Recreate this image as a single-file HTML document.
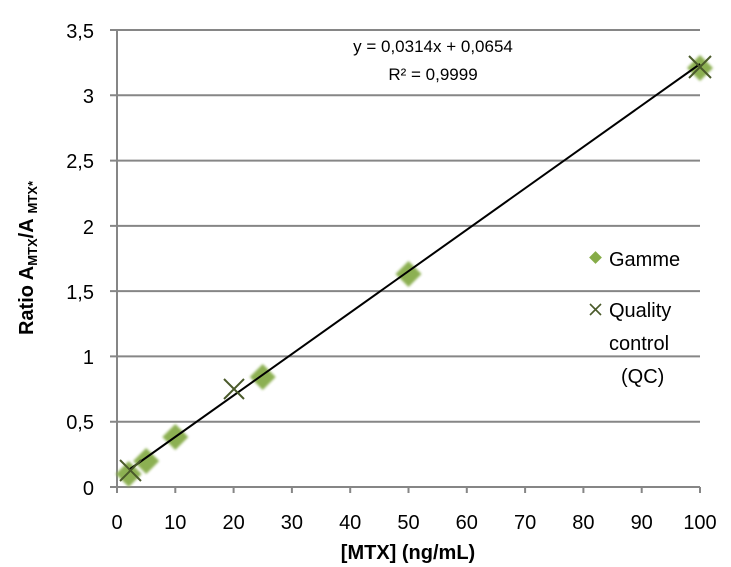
<!DOCTYPE html>
<html><head><meta charset="utf-8"><style>
html,body{margin:0;padding:0;background:#fff;}
svg{display:block;font-family:"Liberation Sans",sans-serif;}
</style></head><body>
<svg width="731" height="567" viewBox="0 0 731 567">
<defs><filter id="b" x="-50%" y="-50%" width="200%" height="200%"><feGaussianBlur stdDeviation="1.2"/></filter></defs>
<g stroke="#868686" stroke-width="2">
<line x1="110" y1="30" x2="700" y2="30"/>
<line x1="110" y1="95.3" x2="700" y2="95.3"/>
<line x1="110" y1="160.6" x2="700" y2="160.6"/>
<line x1="110" y1="225.9" x2="700" y2="225.9"/>
<line x1="110" y1="291.1" x2="700" y2="291.1"/>
<line x1="110" y1="356.4" x2="700" y2="356.4"/>
<line x1="110" y1="421.7" x2="700" y2="421.7"/>
<line x1="110" y1="487" x2="700" y2="487"/>
<line x1="117" y1="30" x2="117" y2="493"/>
<line x1="175.3" y1="487" x2="175.3" y2="493"/>
<line x1="233.6" y1="487" x2="233.6" y2="493"/>
<line x1="291.9" y1="487" x2="291.9" y2="493"/>
<line x1="350.2" y1="487" x2="350.2" y2="493"/>
<line x1="408.5" y1="487" x2="408.5" y2="493"/>
<line x1="466.8" y1="487" x2="466.8" y2="493"/>
<line x1="525.1" y1="487" x2="525.1" y2="493"/>
<line x1="583.4" y1="487" x2="583.4" y2="493"/>
<line x1="641.7" y1="487" x2="641.7" y2="493"/>
<line x1="700" y1="487" x2="700" y2="493"/>
</g>
<g font-size="20" fill="#000" text-anchor="end">
<text x="94" y="38">3,5</text><text x="94" y="103">3</text><text x="94" y="168">2,5</text>
<text x="94" y="234">2</text><text x="94" y="299">1,5</text><text x="94" y="364">1</text>
<text x="94" y="429">0,5</text><text x="94" y="495">0</text>
</g>
<g font-size="20" fill="#000" text-anchor="middle">
<text x="117" y="529">0</text><text x="175.3" y="529">10</text><text x="233.6" y="529">20</text>
<text x="291.9" y="529">30</text><text x="350.2" y="529">40</text><text x="408.5" y="529">50</text>
<text x="466.8" y="529">60</text><text x="525.1" y="529">70</text><text x="583.4" y="529">80</text>
<text x="641.7" y="529">90</text><text x="700" y="529">100</text>
</g>
<text x="408" y="559" font-size="20" font-weight="bold" text-anchor="middle">[MTX] (ng/mL)</text>
<text transform="translate(33,258) rotate(-90)" font-size="20" font-weight="bold" text-anchor="middle">Ratio A<tspan font-size="13" dy="4">MTX</tspan><tspan dy="-4">/A </tspan><tspan font-size="13" dy="4">MTX*</tspan></text>
<g fill="#86ac48" filter="url(#b)" opacity="0.95">
<path d="M128.7 461 l13 13 -13 13 -13 -13z"/>
<path d="M146.2 448 l13 13 -13 13 -13 -13z"/>
<path d="M175.3 424 l13 13 -13 13 -13 -13z"/>
<path d="M262.7 364 l13 13 -13 13 -13 -13z"/>
<path d="M408.5 261 l13 13 -13 13 -13 -13z"/>
<path d="M700 55 l13 13 -13 13 -13 -13z"/>
</g>
<line x1="128.7" y1="470" x2="700" y2="64" stroke="#000" stroke-width="2"/>
<g stroke="#4a5a2a" stroke-width="2">
<path d="M120 460 l21 21 M141 460 l-21 21"/>
<path d="M224 379 l20 20 M244 379 l-20 20"/>
<path d="M689 56 l22 22 M711 56 l-22 22"/>
</g>
<text x="433" y="52" font-size="17" text-anchor="middle">y = 0,0314x + 0,0654</text>
<text x="433" y="80" font-size="17" text-anchor="middle">R² = 0,9999</text>
<rect x="591" y="253" width="9" height="9" fill="#86ac48" transform="rotate(45 595.5 257.5)"/>
<text x="609" y="266" font-size="20">Gamme</text>
<path d="M590 304 l11 11 M601 304 l-11 11" stroke="#4a5a2a" stroke-width="1.6"/>
<text x="609" y="317" font-size="20">Quality</text>
<text x="609" y="350" font-size="20">control</text>
<text x="621" y="383" font-size="20">(QC)</text>
</svg>
</body></html>
